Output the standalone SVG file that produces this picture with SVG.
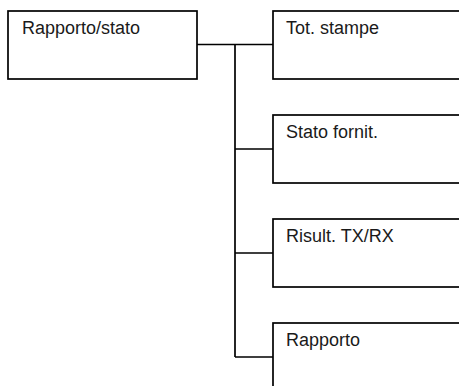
<svg xmlns="http://www.w3.org/2000/svg" width="459" height="386" viewBox="0 0 459 386">
<style>
.box{fill:#fff;stroke:#000;stroke-width:1.7}
.lbl{font-family:"Liberation Sans",Arial,sans-serif;font-size:18px;fill:#1a1a1a}
.conn{fill:none;stroke:#000;stroke-width:1.7}
</style>
<rect width="459" height="386" fill="#fff"/>
<g id="connectors">
<path class="conn" d="M197 44.5H273M235 44.5V357M235 149H273M235 253H273M235 357H273"/>
</g>
<g id="node-rapporto-stato">
<rect class="box" x="8" y="11" width="189" height="68"/>
<text class="lbl" x="22" y="34">Rapporto/stato</text>
</g>
<g id="node-tot-stampe">
<rect class="box" x="273" y="11" width="200" height="68"/>
<text class="lbl" x="286" y="34">Tot. stampe</text>
</g>
<g id="node-stato-fornit">
<rect class="box" x="273" y="115" width="200" height="68"/>
<text class="lbl" x="286" y="138">Stato fornit.</text>
</g>
<g id="node-risult-txrx">
<rect class="box" x="273" y="219" width="200" height="68"/>
<text class="lbl" x="286" y="242">Risult. TX/RX</text>
</g>
<g id="node-rapporto">
<rect class="box" x="273" y="323" width="200" height="68"/>
<text class="lbl" x="286" y="346">Rapporto</text>
</g>
</svg>
